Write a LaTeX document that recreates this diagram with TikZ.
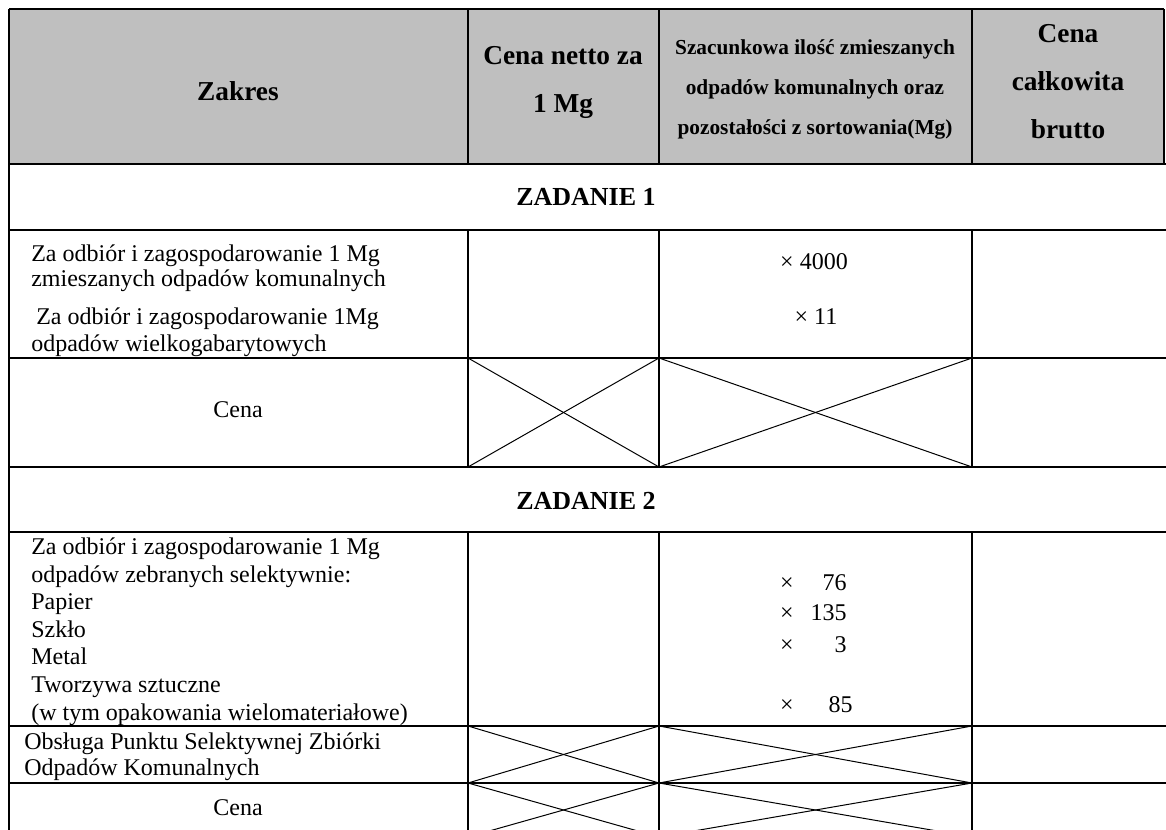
\documentclass[tikz,border=0pt]{standalone}
\usepackage{fontspec}
\setmainfont{Liberation Serif}
\definecolor{headgray}{RGB}{191,191,191}
\begin{document}
\begin{tikzpicture}[x=0.75pt,y=-0.75pt,
  grid/.style={line width=1.4pt, black},
  xline/.style={line width=0.75pt, black},
  body/.style={font=\fontsize{18}{19}\selectfont, inner sep=0pt, anchor=base west},
  bodyc/.style={font=\fontsize{18}{19}\selectfont, inner sep=0pt, anchor=base},
  hb/.style={font=\fontsize{20.5}{24}\selectfont\bfseries, inner sep=0pt, anchor=base},
  hs/.style={font=\fontsize{16}{19}\selectfont\bfseries, inner sep=0pt, anchor=base},
  zad/.style={font=\fontsize{19.5}{23}\selectfont\bfseries, inner sep=0pt, anchor=base}]
\useasboundingbox (0,0) rectangle (1166,830);
\clip (0,0) rectangle (1166,830);
% header background
\fill[headgray] (9,9) rectangle (1164,164);
% header frame
\draw[grid] (9,9) -- (1164,9);
\draw[grid] (1164,9) -- (1164,164);
% horizontal rules below the header
\foreach \y in {164,230,358,467,532,726,783,837}
  \draw[grid] (9,\y) -- (1170,\y);
% left border
\draw[grid] (9,9) -- (9,837);
% inner verticals
\foreach \x in {468,659,972} {
  \draw[grid] (\x,9) -- (\x,164);
  \draw[grid] (\x,230) -- (\x,467);
  \draw[grid] (\x,532) -- (\x,837);
}
% crossed-out cells
\foreach \ya/\yb in {358/467,726/783,783/837} {
  \draw[xline] (468,\ya) -- (659,\yb);
  \draw[xline] (468,\yb) -- (659,\ya);
  \draw[xline] (659,\ya) -- (972,\yb);
  \draw[xline] (659,\yb) -- (972,\ya);
}
% header texts
\node[hb] (hzak) at (238,101) {Zakres};
\node[hb] (hcn1) at (563,65) {Cena netto za};
\node[hb] (hcn2) at (563,113) {1 Mg};
\node[hs] (hsz1) at (815,55) {Szacunkowa ilość zmieszanych};
\node[hs] (hsz2) at (815,95) {odpadów komunalnych oraz};
\node[hs] (hsz3) at (815,135) {pozostałości z sortowania(Mg)};
\node[hb] (hcc1) at (1068,43) {Cena};
\node[hb] (hcc2) at (1068,91) {całkowita};
\node[hb] (hcc3) at (1068,139) {brutto};
% ZADANIE 1
\node[zad] (z1) at (586,206) {ZADANIE 1};
\node[body] (r1a) at (31,262) {Za odbiór i zagospodarowanie 1 Mg};
\node[body] (r1b) at (31,287) {zmieszanych odpadów komunalnych};
\node[body] (r1c) at (36,325) {Za odbiór i zagospodarowanie 1Mg};
\node[body] (r1d) at (31,351) {odpadów wielkogabarytowych};
\node[bodyc] (q1a) at (814,270) {× 4000};
\node[bodyc] (q1b) at (816,325) {× 11};
\node[bodyc] (c1) at (238,417) {Cena};
% ZADANIE 2
\node[zad] (z2) at (586,509) {ZADANIE 2};
\node[body] (r2a) at (31,554) {Za odbiór i zagospodarowanie 1 Mg};
\node[body] (r2b) at (31,582) {odpadów zebranych selektywnie:};
\node[body] (r2c) at (31,609) {Papier};
\node[body] (r2d) at (31,637) {Szkło};
\node[body] (r2e) at (31,664) {Metal};
\node[body] (r2f) at (31,692) {Tworzywa sztuczne};
\node[body] (r2g) at (31,720) {(w tym opakowania wielomateriałowe)};
\node[bodyc] (m1) at (787,590) {×};
\node[bodyc] (m2) at (787,620) {×};
\node[bodyc] (m3) at (787,652) {×};
\node[bodyc] (m4) at (787,712) {×};
\node[body, anchor=base east] (v1) at (847,590) {76};
\node[body, anchor=base east] (v2) at (847,620) {135};
\node[body, anchor=base east] (v3) at (847,652) {3};
\node[body, anchor=base east] (v4) at (853,712) {85};
\node[body] (o1) at (24,749) {Obsługa Punktu Selektywnej Zbiórki};
\node[body] (o2) at (24,775) {Odpadów Komunalnych};
\node[bodyc] (c2) at (238,815) {Cena};
\end{tikzpicture}
\end{document}
